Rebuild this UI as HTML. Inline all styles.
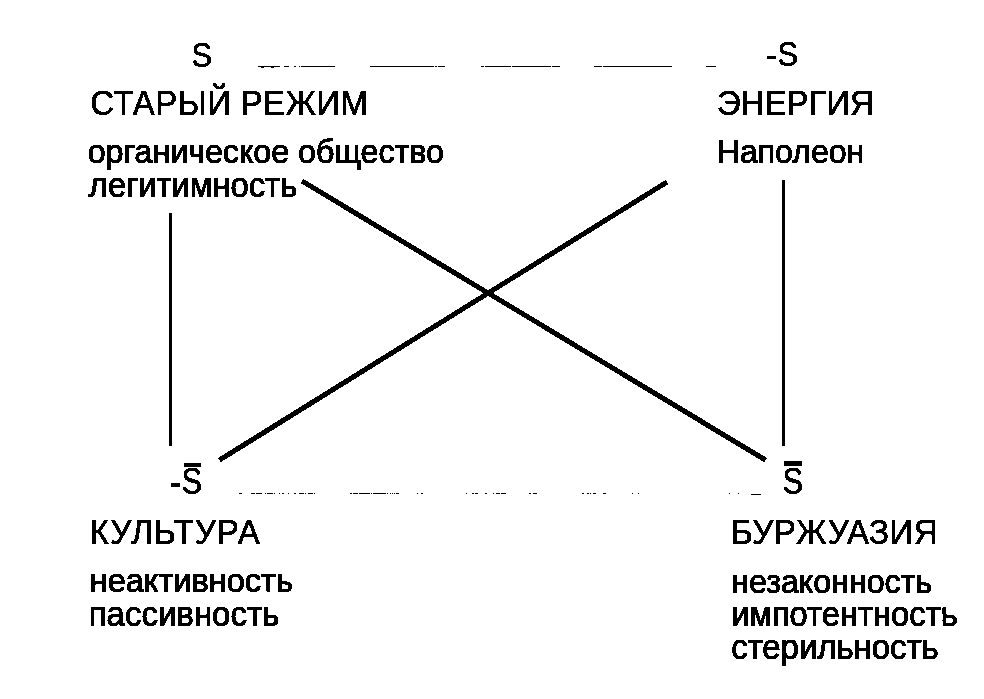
<!DOCTYPE html>
<html><head><meta charset="utf-8">
<style>
html,body{margin:0;padding:0;background:#fff;}
body{width:984px;height:699px;position:relative;overflow:hidden;font-family:"Liberation Sans",sans-serif;color:#000;}
#c{position:absolute;left:0;top:0;width:984px;height:699px;filter:url(#bin);}
.t{position:absolute;white-space:nowrap;line-height:1;-webkit-text-stroke:1.2px #000;}
svg{position:absolute;left:0;top:0;}
</style></head><body>
<svg width="0" height="0" style="position:absolute"><filter id="bin" x="0" y="0" width="100%" height="100%" color-interpolation-filters="sRGB"><feComponentTransfer><feFuncA type="discrete" tableValues="0 1 1"/></feComponentTransfer></filter></svg>
<div id="c">
<svg width="984" height="699" viewBox="0 0 984 699">
<g fill="#000">
<rect x="169" y="213" width="3" height="233"/>
<rect x="782" y="180" width="3" height="266"/>
<rect x="258.0" y="66" width="21.7" height="1.2"/>
<rect x="284.0" y="66" width="4.9" height="1.2"/>
<rect x="293.9" y="66" width="2.1" height="1.2"/>
<rect x="299.0" y="66" width="1.0" height="1.2"/>
<rect x="301.2" y="66" width="33.8" height="1.2"/>
<rect x="370.0" y="66" width="63.8" height="1.2"/>
<rect x="435.2" y="66" width="1.8" height="1.2"/>
<rect x="438.2" y="66" width="6.7" height="1.2"/>
<rect x="481.0" y="66" width="3.0" height="1.2"/>
<rect x="485.0" y="66" width="26.0" height="1.2"/>
<rect x="512.0" y="66" width="39.0" height="1.2"/>
<rect x="552.0" y="66" width="8.0" height="1.2"/>
<rect x="593.8" y="66" width="8.2" height="1.2"/>
<rect x="603.0" y="66" width="69.0" height="1.2"/>
<rect x="706.0" y="66" width="10.0" height="1.2"/>
<rect x="261.5" y="67" width="2" height="1"/><rect x="271.5" y="67" width="2" height="1"/>
<rect x="238.8" y="493" width="3.1" height="1.2"/>
<rect x="251.0" y="493" width="4.0" height="1.2"/>
<rect x="255.9" y="493" width="6.1" height="1.2"/>
<rect x="264.7" y="493" width="1.3" height="1.2"/>
<rect x="267.0" y="493" width="6.0" height="1.2"/>
<rect x="273.9" y="493" width="1.1" height="1.2"/>
<rect x="278.7" y="493" width="1.3" height="1.2"/>
<rect x="281.8" y="493" width="2.2" height="1.2"/>
<rect x="287.9" y="493" width="1.1" height="1.2"/>
<rect x="294.0" y="493" width="1.8" height="1.2"/>
<rect x="299.0" y="493" width="5.0" height="1.2"/>
<rect x="305.0" y="493" width="1.0" height="1.2"/>
<rect x="308.0" y="493" width="5.0" height="1.2"/>
<rect x="314.0" y="493" width="1.2" height="1.2"/>
<rect x="350.0" y="493" width="1.9" height="1.2"/>
<rect x="353.0" y="493" width="5.0" height="1.2"/>
<rect x="359.0" y="493" width="10.7" height="1.2"/>
<rect x="370.9" y="493" width="1.1" height="1.2"/>
<rect x="373.0" y="493" width="13.0" height="1.2"/>
<rect x="386.9" y="493" width="1.1" height="1.2"/>
<rect x="389.9" y="493" width="0.8" height="1.2"/>
<rect x="391.9" y="493" width="0.8" height="1.2"/>
<rect x="393.8" y="493" width="0.9" height="1.2"/>
<rect x="396.0" y="493" width="3.0" height="1.2"/>
<rect x="416.7" y="493" width="1.3" height="1.2"/>
<rect x="421.0" y="493" width="1.9" height="1.2"/>
<rect x="465.9" y="493" width="1.1" height="1.2"/>
<rect x="472.0" y="493" width="2.0" height="1.2"/>
<rect x="475.0" y="493" width="3.0" height="1.2"/>
<rect x="484.8" y="493" width="1.8" height="1.2"/>
<rect x="492.7" y="493" width="1.3" height="1.2"/>
<rect x="496.0" y="493" width="4.0" height="1.2"/>
<rect x="501.0" y="493" width="5.0" height="1.2"/>
<rect x="529.0" y="493" width="2.0" height="1.2"/>
<rect x="533.0" y="493" width="4.0" height="1.2"/>
<rect x="582.5" y="493" width="1.5" height="1.2"/>
<rect x="587.0" y="493" width="1.5" height="1.2"/>
<rect x="590.0" y="493" width="1.0" height="1.2"/>
<rect x="593.0" y="493" width="2.4" height="1.2"/>
<rect x="602.7" y="493" width="3.0" height="1.2"/>
<rect x="632.0" y="493" width="1.0" height="1.2"/>
<rect x="638.0" y="493" width="1.0" height="1.2"/>
<rect x="729.0" y="493" width="1.0" height="1.2"/>
<rect x="738.0" y="493" width="1.0" height="1.2"/>
<rect x="751" y="494" width="10" height="1.2"/>
<rect x="171" y="483" width="9" height="4"/>
<rect x="767" y="56" width="9" height="3"/>
<rect x="184" y="463" width="17" height="4"/>
<rect x="784" y="461" width="18" height="5"/>
</g>
<g stroke="#000" stroke-width="4.8" fill="none">
<line x1="302" y1="181" x2="765.5" y2="460"/>
<line x1="667" y1="182" x2="219.5" y2="460"/>
</g>
</svg>
<div class="t" style="left:191.59px;top:40.76px;font-size:31.00px;transform:scaleY(1.13);transform-origin:0 26.35px;-webkit-text-stroke-width:0.3px">S</div>
<div class="t" style="left:777.59px;top:39.76px;font-size:31.00px;transform:scaleY(1.13);transform-origin:0 26.35px;-webkit-text-stroke-width:0.3px">S </div>
<div class="t" style="left:90.32px;top:87.07px;font-size:33.00px;transform:scaleY(1.045);transform-origin:0 28.05px;-webkit-text-stroke-width:0.3px;letter-spacing:0.360px">СТАРЫЙ РЕЖИМ</div>
<div class="t" style="left:87.65px;top:135.74px;font-size:32.20px;transform:scaleY(1.05);transform-origin:0 27.37px;-webkit-text-stroke-width:0.7px">органическое общество</div>
<div class="t" style="left:88.82px;top:170.23px;font-size:32.80px;transform:scaleY(1.05);transform-origin:0 27.88px;-webkit-text-stroke-width:0.7px">легитимность</div>
<div class="t" style="left:716.91px;top:87.07px;font-size:33.00px;transform:scaleY(1.045);transform-origin:0 28.05px;-webkit-text-stroke-width:0.3px">ЭНЕРГИЯ</div>
<div class="t" style="left:716.88px;top:135.91px;font-size:32.00px;transform:scaleY(1.05);transform-origin:0 27.20px;-webkit-text-stroke-width:0.7px">Наполеон</div>
<div class="t" style="left:89.48px;top:515.90px;font-size:33.20px;transform:scaleY(1.045);transform-origin:0 28.22px;-webkit-text-stroke-width:0.3px;letter-spacing:1.000px">КУЛЬТУРА</div>
<div class="t" style="left:89.75px;top:565.49px;font-size:32.50px;transform:scaleY(1.05);transform-origin:0 27.62px;-webkit-text-stroke-width:0.7px">неактивность</div>
<div class="t" style="left:88.71px;top:598.07px;font-size:33.00px;transform:scaleY(1.05);transform-origin:0 28.05px;-webkit-text-stroke-width:0.7px">пассивность</div>
<div class="t" style="left:730.98px;top:515.90px;font-size:33.20px;transform:scaleY(1.045);transform-origin:0 28.22px;-webkit-text-stroke-width:0.3px;letter-spacing:0.370px">БУРЖУАЗИЯ</div>
<div class="t" style="left:731.17px;top:565.74px;font-size:32.20px;transform:scaleY(1.05);transform-origin:0 27.37px;-webkit-text-stroke-width:0.7px">незаконность</div>
<div class="t" style="left:731.14px;top:599.40px;font-size:32.60px;transform:scaleY(1.05);transform-origin:0 27.71px;-webkit-text-stroke-width:0.7px;letter-spacing:0.080px">импотентность</div>
<div class="t" style="left:731.20px;top:632.15px;font-size:32.90px;transform:scaleY(1.05);transform-origin:0 27.96px;-webkit-text-stroke-width:0.7px">стерильность</div>
<div class="t" style="left:181.59px;top:467.76px;font-size:31.00px;transform:scaleY(1.2);transform-origin:0 26.35px;-webkit-text-stroke-width:0.3px">S  </div>
<div class="t" style="left:782.59px;top:467.76px;font-size:31.00px;transform:scaleY(1.18);transform-origin:0 26.35px;-webkit-text-stroke-width:0.3px">S   </div>
</div>
</body></html>
